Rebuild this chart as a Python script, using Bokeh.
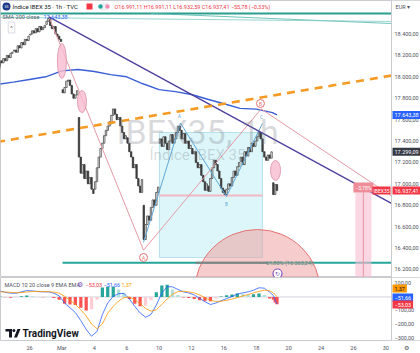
from bokeh.plotting import figure
from bokeh.layouts import column
from bokeh.models import Range1d, FixedTicker, Label, PolyAnnotation, ColumnDataSource
from bokeh.embed import file_html
from bokeh.resources import INLINE

FONT = "Roboto"

# ---------------- data ----------------
# trading-day index: -2 = Feb 24 ... 15 = Mar 19 (hourly bars, 9 per day)
day_index = list(range(-2, 16))
day_open = [18080, 18240, 18390, 18490, 17880, 17620, 16950, 17560, 17430,
            16800, 17380, 17420, 17330, 16980, 16940, 17210, 17400, 17010]
hourly_close = [
    [18100, 18150, 18130, 18170, 18150, 18200, 18180, 18220, 18230],
    [18250, 18230, 18290, 18270, 18320, 18300, 18350, 18340, 18380],
    [18400, 18430, 18410, 18450, 18420, 18470, 18440, 18460, 18480],
    [18520, 18545, 18480, 18450, 18470, 18400, 18380, 18350, 18330],
    [17850, 17900, 17960, 17970, 17920, 17840, 17800, 17830, 17870],
    [17250, 17100, 17180, 17050, 17120, 17000, 17060, 16950, 16910],
    [17020, 17150, 17250, 17330, 17380, 17450, 17500, 17540, 17580],
    [17640, 17700, 17650, 17600, 17620, 17540, 17480, 17420, 17450],
    [17380, 17300, 17250, 17150, 17180, 17050, 16980, 16920, 17040],
    [16480, 16620, 16700, 16660, 16780, 16850, 16800, 16920, 16970],
    [17420, 17350, 17440, 17380, 17320, 17400, 17460, 17380, 17420],
    [17480, 17540, 17500, 17420, 17470, 17380, 17400, 17330, 17360],
    [17280, 17300, 17200, 17150, 17180, 17080, 17020, 16940, 17000],
    [16930, 17050, 17150, 17220, 17180, 17120, 17050, 16960, 16920],
    [16900, 16950, 17000, 16980, 17060, 17120, 17080, 17160, 17200],
    [17250, 17180, 17300, 17260, 17340, 17300, 17380, 17350, 17400],
    [17440, 17480, 17420, 17300, 17250, 17220, 17270, 17240, 17299.09],
    [16900, 16993.19, 16937.41],
]
sma_day = [-2, -1, 0, 1, 2, 3, 4, 5, 6, 7, 8, 9, 10, 11, 12, 13, 14, 15, 15.28]
sma_200 = [17930, 17950, 17975, 18000, 18055, 18068, 18050, 18020, 18000, 17935,
           17880, 17862, 17835, 17790, 17748, 17705, 17698, 17665, 17643.38]
macd_day = [-1.83, -1.5, -1.17, -0.83, -0.5, -0.17, 0.17, 0.5, 0.83, 1.17, 1.5, 1.83,
            2.17, 2.5, 2.83, 3.17, 3.5, 3.83, 4.17, 4.5, 4.83, 5.17, 5.5, 5.83,
            6.17, 6.5, 6.83, 7.17, 7.5, 7.83, 8.17, 8.5, 8.83, 9.17, 9.5, 9.83,
            10.17, 10.5, 10.83, 11.17, 11.5, 11.83, 12.17, 12.5, 12.83, 13.17, 13.5, 13.83,
            14.17, 14.5, 14.83, 15.06, 15.17, 15.28]
macd_line = [44, 35, 28, 28, 38, 47, 45, 40, 38, 38, 28, 8,
             -45, -80, -115, -175, -240, -290, -255, -130, -45, 5, 25, 26,
             -15, -70, -118, -150, -130, -60, 30, 76, 75, 55, 38, 30,
             15, -10, -35, -56, -45, -28, -12, 3, 22, 30, 38, 50,
             68, 65, 35, 10, -25, -51.66]
signal_line = [38, 37, 34, 31, 32, 37, 40, 41, 40, 39, 36, 28,
               5, -25, -55, -95, -140, -200, -235, -200, -120, -70, -30, -5,
               0, -20, -50, -85, -105, -95, -55, -15, 20, 40, 42, 38,
               30, 15, -5, -25, -33, -32, -25, -16, -4, 8, 18, 30,
               42, 50, 46, 30, 16, 1.37]
price_ticks = [16200, 16400, 16600, 16800, 17000, 17200, 17400, 17600, 17800, 18000, 18200, 18400]
macd_ticks = [100, 0, -100, -200, -300]
time_ticks = [0, 2, 4, 6, 8, 10, 12, 14, 16, 18, 20, 22]
time_labels = ["26", "Mar", "4", "6", "10", "12", "16", "18", "20", "24", "26", "30"]

# drawings (day index, price)
trend_day, trend_price = [1.2, 22.35], [18560, 16817]
orange_day, orange_price = [-2.0, 22.35], [17391, 18012]
abcd_day, abcd_price = [1.2, 7.04, 14.3, 22.35], [18560, 16380, 17700, 16887]
zig_day, zig_price = [7.04, 9.32, 12.16, 14.38], [16452, 17568, 16882, 17564]
box_day, box_price = [8.02, 14.38], [16312, 17480]
b_level = 16891
fib_level = 16263.24
fib_start = 2.04
arc_day, arc_price, arc_w, arc_h = 14.07, 15985, 7.78, 1177
range_day, range_price = [20.12, 21.11], [16000, 16920]
ell_day = [2.0, 3.24, 15.19]
ell_price = [18148, 17769, 17125]
ell_w = [0.556, 0.556, 0.617]
ell_h = [327, 206, 187]
top_level = 18592
thin1_day, thin1_price = [7.47, 22.35], [18592, 18498]
thin2_day, thin2_price = [-2.0, 22.35], [18556, 18517]
last_close, prev_close, sma_last = 16937.41, 17299.09, 17643.38

# ---------------- helpers ----------------
W = 420
PLOT_W = 391                      # price/time area; 391..420 is the price scale
X0, X1 = -1.79, 22.35             # days at x=0 and x=391 px
DPX = (X1 - X0) / PLOT_W
XR = X0 + W * DPX                 # days at x=420 px
PY0, PY1 = 16125, 18713
MY0, MY1 = -322, 144
PH, MH = 277, 63


def px(x):
    return X0 + x * DPX


def pp(y):
    return PY1 - y * (PY1 - PY0) / PH


def mp(y):
    return MY1 - (y - PH) * (MY1 - MY0) / MH


def es(v, dec=2):
    s = f"{abs(v):,.{dec}f}".replace(",", "X").replace(".", ",").replace("X", ".")
    return ("\u2212" if v < 0 else "") + s


def lab(fig, x, y, text, size="6px", color="#131722", align="left", base="middle", **kw):
    fig.add_layout(Label(x=x, y=y, text=text, text_font=FONT, text_font_size=size,
                         text_color=color, text_align=align, text_baseline=base, **kw))


def style_axis(ax):
    ax.major_label_text_font = FONT
    ax.major_label_text_font_size = "5.5px"
    ax.major_label_text_color = "#50535e"
    ax.major_tick_out = 0
    ax.minor_tick_out = 0
    ax.major_tick_in = 0
    ax.minor_tick_in = 0
    ax.axis_line_color = None


# ---------------- price pane ----------------
p = figure(frame_width=W, frame_height=PH, x_range=Range1d(X0, XR), y_range=Range1d(PY0, PY1),
           y_axis_location="right", x_axis_location=None, toolbar_location=None,
           output_backend="svg", min_border=0, outline_line_color="#c9cbd1",
           background_fill_color="white", border_fill_color="white")
p.grid.visible = False
ya = p.yaxis[0]
ya.ticker = FixedTicker(ticks=price_ticks)
ya.major_label_overrides = {t: es(t) for t in price_ticks}
style_axis(ya)
ya.major_label_standoff = -(W - 394)

# watermark
lab(p, px(197), pp(131), "IBEX35, 1h", size="34px", color="#787b86", align="center", text_alpha=0.28)
lab(p, px(197), pp(154), "Índice IBEX 35", size="15px", color="#787b86", align="center", text_alpha=0.28)

# top teal lines
p.line([X0, X1], [top_level, top_level], line_color="#2a9d8f", line_width=2)
p.line(thin1_day, thin1_price, line_color="#4db6ac", line_width=1, line_alpha=0.8)
p.line(thin2_day, thin2_price, line_color="#80cbc4", line_width=1, line_alpha=0.8)

# cyan box and B-level
p.quad(left=box_day[0], right=box_day[1], bottom=box_price[0], top=box_price[1],
       fill_color="#b2ebf2", fill_alpha=0.45, line_color="#a9dce6", line_width=0.8)
p.line(box_day, [b_level, b_level], line_color="#f3b8c4", line_width=2)

# fib line + semicircle
p.line([fib_start, X1], [fib_level, fib_level], line_color="#26a69a", line_width=2)
p.ellipse(x=arc_day, y=arc_price, width=arc_w, height=arc_h, fill_color="#ef9a9a",
          fill_alpha=0.5, line_color="#e57373", line_width=1)
p.line([px(195), px(267)], [fib_level, fib_level], line_color="#7d8584", line_width=2)
lab(p, px(289), fib_level, "61,80% (16.263,24)", size="5.5px", color="#4f8a80", align="center")

# SMA 200
p.line(sma_day, sma_200, line_color="#3a5fd6", line_width=1.4)

# candles
bar_x, bar_o, bar_c = [], [], []
for d, o0, cl in zip(day_index, day_open, hourly_close):
    prev = o0
    for h, c in enumerate(cl):
        bar_x.append(d + (h + 0.5) / 9)
        bar_o.append(prev)
        bar_c.append(c)
        prev = c
src = ColumnDataSource(dict(
    x=bar_x,
    top=[max(a, b) for a, b in zip(bar_o, bar_c)],
    bottom=[min(a, b) for a, b in zip(bar_o, bar_c)],
    fill=["#ffffff" if c >= o else "#3d3d3d" for o, c in zip(bar_o, bar_c)]))
p.segment(x0="x", x1="x", y0="bottom", y1="top", source=src, line_color="#3d3d3d", line_width=1)
p.vbar(x="x", width=0.09, top="top", bottom="bottom", source=src,
       fill_color="fill", line_color="#3d3d3d", line_width=0.7)

# drawings
p.line(abcd_day, abcd_price, line_color="#e59aa6", line_width=1)
p.line(zig_day, zig_price, line_color="#5fa8d8", line_width=1)
p.line(trend_day, trend_price, line_color="#4e3f9e", line_width=1.3)
p.line(orange_day, orange_price, line_color="#f59a23", line_width=2.6, line_dash="8 6")
p.ellipse(x=ell_day, y=ell_price, width=ell_w, height=ell_h, fill_color="#f8bbd0",
          fill_alpha=0.8, line_color="#dd8fa8", line_width=0.8)

# price-range tool on the right
p.quad(left=range_day[0], right=range_day[1], bottom=range_price[0], top=range_price[1],
       fill_color="#f8bbd0", fill_alpha=0.6, line_color=None)
p.line([sum(range_day) / 2] * 2, range_price, line_color="#e8a0ac", line_width=1.2)
lab(p, sum(range_day) / 2, pp(187), "\u22123,78%", size="5px", color="white", align="center",
    background_fill_color="#ee8c98", padding=2)
lab(p, px(390), last_close, "IBEX35", size="5px", color="white", align="right",
    background_fill_color="#f23645", padding=1)

# pattern labels
p.scatter(x=[7.04, 14.26], y=[pp(257), pp(103)], size=8, marker="circle",
          fill_color="white", line_color="#e57373", line_width=1)
lab(p, 7.04, pp(257), "A", size="5px", color="#e57373", align="center")
lab(p, 14.26, pp(103), "B", size="5px", color="#e57373", align="center")
lab(p, px(179), pp(116), "A", size="4.5px", color="#5fa8d8", align="center")
lab(p, px(226), pp(204), "B", size="4.5px", color="#5fa8d8", align="center")
lab(p, px(261), pp(117), "C", size="4.5px", color="#5fa8d8", align="center")
p.scatter(x=[px(277)], y=[pp(273)], size=9, marker="circle", fill_color="white",
          line_color="#7e57c2", line_width=1.2)
lab(p, px(277), pp(273), "\u21bb", size="6px", color="#7e57c2", align="center")

# price-scale panel (white) and its border
p.quad(left=X1, right=XR, bottom=PY0, top=PY1, fill_color="white", line_color=None)
p.line([X1, X1], [PY0, PY1], line_color="#c9cbd1", line_width=1)

# legend / header
p.scatter(x=[px(6)], y=[pp(6)], size=8, marker="circle", fill_color="#1f3c88", line_color=None)
lab(p, px(6), pp(6), "35", size="3.5px", color="white", align="center")
lab(p, px(12), pp(6), "Índice IBEX 35 · 1h · TVC", size="6px", color="#131722")
p.scatter(x=[px(89)], y=[pp(6)], size=6, marker="square", fill_color="#f23645", line_color=None)
p.scatter(x=[px(103.5)], y=[pp(6)], size=8, marker="square", fill_color="#eef0f4", line_color=None)
p.scatter(x=[px(100), px(107)], y=[pp(6), pp(6)], size=4.5, marker="circle",
          fill_color=["#26a69a", "#f48fb1"], line_color=None)
lab(p, px(114), pp(6), "O16.991,11 H16.991,11 L16.932,59 C16.937,41 \u221255,78 (\u22120,33%)",
    size="5.5px", color="#f23645")
lab(p, px(2), pp(16), "SMA 200 close", size="5.5px", color="#50535e")
lab(p, px(43), pp(16), "17.643,38", size="5.5px", color="#2962ff")
lab(p, px(11), pp(27), "^", size="6px", color="#50535e", align="center",
    border_line_color="#d1d4dc", border_line_width=0.8, background_fill_color="white", padding=2)

# boxes on the price scale
lab(p, px(392), sma_last, es(sma_last), size="5.5px", color="white",
    background_fill_color="#2962ff", padding=2)
lab(p, px(392), prev_close, es(prev_close), size="5.5px", color="white",
    background_fill_color="#363a45", padding=2)
lab(p, px(392), last_close, es(last_close), size="5.5px", color="white",
    background_fill_color="#f23645", padding=2)
lab(p, px(395), pp(6), "EUR \u25be", size="5.5px", color="#50535e")

# ---------------- MACD pane ----------------
m = figure(frame_width=W, frame_height=MH, x_range=p.x_range, y_range=Range1d(MY0, MY1),
           y_axis_location="right", toolbar_location=None, output_backend="svg",
           min_border=0, outline_line_color="#c9cbd1",
           background_fill_color="white", border_fill_color="white")
m.grid.visible = False
my = m.yaxis[0]
my.ticker = FixedTicker(ticks=macd_ticks)
my.major_label_overrides = {t: es(t) for t in macd_ticks}
style_axis(my)
my.major_label_standoff = -(W - 394)
xa = m.xaxis[0]
gear_x = px(406)
xa.ticker = FixedTicker(ticks=time_ticks + [gear_x])
overrides = dict(zip(time_ticks, time_labels))
overrides[gear_x] = "\u2699"
xa.major_label_overrides = overrides
style_axis(xa)
xa.major_label_standoff = 4

m.line([X0, X1], [0, 0], line_color="#d1d4dc", line_width=1)
hist = [a - b for a, b in zip(macd_line, signal_line)]
hcol = []
for i, h in enumerate(hist):
    prev = hist[i - 1] if i else h
    if h >= 0:
        hcol.append("#26a69a" if h >= prev else "#b2dfdb")
    else:
        hcol.append("#ff5252" if h <= prev else "#ffcdd2")
m.vbar(x=macd_day, width=0.2, top=hist, bottom=0, fill_color=hcol, line_color=None)
m.line(macd_day, macd_line, line_color="#2962ff", line_width=1, line_alpha=0.8)
m.line(macd_day, signal_line, line_color="#ff9800", line_width=1, line_alpha=0.8)
m.quad(left=X1, right=XR, bottom=MY0, top=MY1, fill_color="white", line_color=None)
m.line([X1, X1], [MY0, MY1], line_color="#c9cbd1", line_width=1)

lab(m, px(4), mp(284), "MACD 10 20 close 9 EMA EMA", size="5.5px", color="#50535e")
lab(m, px(79), mp(284), "\u2699", size="7px", color="#7e57c2", align="center")
lab(m, px(85), mp(284), es(hist[-1]), size="5.5px", color="#f23645")
lab(m, px(103), mp(284), es(macd_line[-1]), size="5.5px", color="#2962ff")
lab(m, px(121), mp(284), es(signal_line[-1]), size="5.5px", color="#ff9800")

lab(m, px(392), mp(288), es(signal_line[-1]), size="5.5px", color="#131722",
    background_fill_color="#ff9800", padding=2)
lab(m, px(392), mp(297), es(macd_line[-1]), size="5.5px", color="white",
    background_fill_color="#2962ff", padding=2)
lab(m, px(392), mp(304), es(hist[-1]), size="5.5px", color="white",
    background_fill_color="#f23645", padding=2)

# TradingView logo
m.add_layout(PolyAnnotation(xs=[px(5), px(11.5), px(11.5), px(8.5), px(8.5), px(5)],
                            ys=[mp(328.5), mp(328.5), mp(337), mp(337), mp(331), mp(331)],
                            fill_color="#131722", fill_alpha=1, line_color=None))
m.add_layout(PolyAnnotation(xs=[px(13.5), px(16.5), px(20), px(17)],
                            ys=[mp(337), mp(337), mp(328.5), mp(328.5)],
                            fill_color="#131722", fill_alpha=1, line_color=None))
m.scatter(x=[px(13.4)], y=[mp(330)], size=3, marker="circle", fill_color="#131722", line_color=None)
lab(m, px(22), mp(333), "TradingView", size="10px", color="#131722", text_font_style="bold")

layout = column(p, m, spacing=0)
open("out.html", "w").write(file_html(layout, INLINE))
